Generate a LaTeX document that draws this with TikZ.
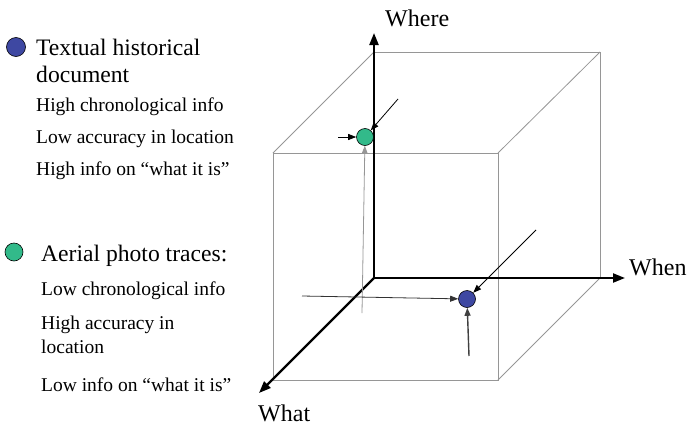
\documentclass[tikz,border=0pt]{standalone}
\usepackage{fontspec}
\setmainfont{Liberation Serif}
\usepackage{tikz}
\usetikzlibrary{arrows.meta,positioning,calc}
\definecolor{dotblue}{RGB}{62,72,162}
\definecolor{dotgreen}{RGB}{50,186,138}
\definecolor{cubegray}{RGB}{150,150,150}

\begin{document}
\begin{tikzpicture}[x=1pt,y=-1pt]
  \tikzstyle{headtxt}=[anchor=base west,inner sep=0pt,font=\fontsize{23.6}{28}\selectfont]
  \tikzstyle{subtxt}=[anchor=base west,inner sep=0pt,font=\fontsize{19.5}{24}\selectfont]
  \tikzstyle{axlabel}=[anchor=base west,inner sep=0pt,font=\fontsize{24}{28}\selectfont]
  \tikzstyle{axis}=[line width=2.2pt,-{Triangle[length=12pt,width=9pt]}]
  \tikzstyle{edge}=[draw=cubegray,line width=0.8pt]
  \tikzstyle{pointer}=[line width=0.8pt,-{Triangle[length=8pt,width=6pt]}]
  \tikzstyle{bullet}=[circle,draw=black,line width=0.6pt,inner sep=0pt]
  \useasboundingbox (0,0) rectangle (688,426);
  % legend
  \node[bullet,fill=dotblue,minimum size=19pt] (bluekey) at (16,47) {};
  \node[headtxt] (textual) at (36,55) {Textual historical};
  \node[headtxt] (document) at (36,82) {document};
  \node[subtxt] (highchrono) at (36,111) {High chronological info};
  \node[subtxt] (lowacc) at (36,143) {Low accuracy in location};
  \node[subtxt] (highwhat) at (36,175) {High info on ``what it is''};
  \node[bullet,fill=dotgreen,minimum size=18pt] (greenkey) at (14,252) {};
  \node[headtxt] (aerial) at (41,261) {Aerial photo traces:};
  \node[subtxt] (lowchrono) at (41,295) {Low chronological info};
  \node[subtxt] (highacc) at (41,329) {High accuracy in};
  \node[subtxt] (location) at (41,353) {location};
  \node[subtxt] (lowwhat) at (41,391) {Low info on ``what it is''};
  % cube
  \coordinate (O) at (374,278);
  \coordinate (bk-tl) at (374,52);
  \coordinate (bk-tr) at (600,52);
  \coordinate (bk-br) at (600,278);
  \coordinate (fr-tl) at (273,153);
  \coordinate (fr-tr) at (498,153);
  \coordinate (fr-br) at (498,380);
  \coordinate (fr-bl) at (273,380);
  \draw[edge] (bk-tl) -- (bk-tr) -- (bk-br);
  \draw[edge] (fr-tl) -- (fr-tr) -- (fr-br) -- (fr-bl) -- cycle;
  \draw[edge] (bk-tl) -- (fr-tl);
  \draw[edge] (bk-tr) -- (fr-tr);
  \draw[edge] (bk-br) -- (fr-br);
  % axes
  \coordinate (wheretip) at (374,33);
  \coordinate (whentip) at (625,278);
  \coordinate (whattip) at (259,393);
  \draw[axis] (O) -- (wheretip);
  \draw[axis] (O) -- (whentip);
  \draw[axis] (O) -- (whattip);
  \node[axlabel] (where) at (385,26) {Where};
  \node[axlabel] (when) at (629,275) {When};
  \node[axlabel] (what) at (258,421) {What};
  % data points
  \node[bullet,fill=dotgreen,minimum size=17pt] (aerialpt) at (365,137) {};
  \node[bullet,fill=dotblue,minimum size=17pt] (textpt) at (467,299) {};
  \coordinate (ga) at (338,137);
  \coordinate (gb) at (398,99);
  \coordinate (gc) at (362,313);
  \coordinate (ba) at (302,296);
  \coordinate (bb) at (536,230);
  \coordinate (bc) at (469,356);
  \draw[pointer] (ga) -- (aerialpt);
  \draw[pointer] (gb) -- (aerialpt);
  \draw[pointer,draw=cubegray] (gc) -- (aerialpt);
  \draw[pointer,draw=black!80] (ba) -- (textpt);
  \draw[pointer] (bb) -- (textpt);
  \draw[pointer,draw=black!75,line width=1.4pt] (bc) -- (textpt);
\end{tikzpicture}
\end{document}
